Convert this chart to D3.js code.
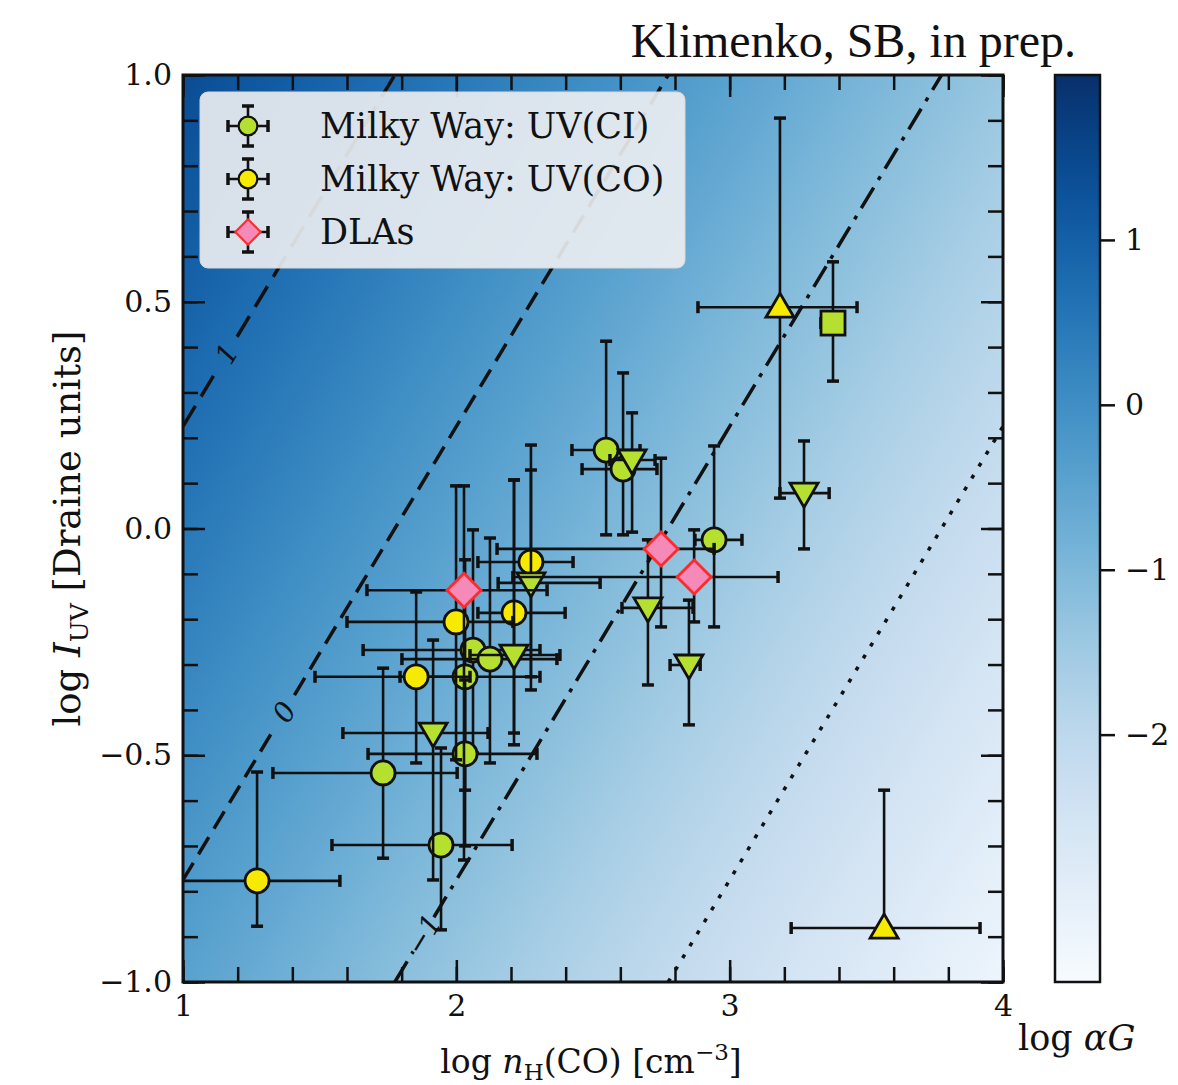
<!DOCTYPE html>
<html>
<head>
<meta charset="utf-8">
<title>log alpha G</title>
<script src="https://d3js.org/d3.v7.min.js"></script>
<style>
body { margin: 0; background: #fff; }
text { font-family: "DejaVu Serif", serif; fill: #111; }
</style>
</head>
<body>
<script>

// ---- data (log n_H, log I_UV, with error bounds) ----
var xTicks = [1, 2, 3, 4];
var yTicks = [-1, -0.5, 0, 0.5, 1];
var cbTicks = [1, 0, -1, -2];
var contourLevels = [1, 0, -1, -2];
var contourLabelX = [1.16, 1.37, 1.88, null];
var contourDash = ["24,11", "20,10", "24,9,4,9", "4,10"];
var alphaGOffset = 1.775;          // log aG = log I - log n + offset
var cbDomain = [-3.5, 2.0];
var fieldDomain = [-3.5, 2.4];

var legendLabels = ["Milky Way: UV(CI)", "Milky Way: UV(CO)", "DLAs"];

var ciCircles = [
	{x: 2.548, y: 0.173, xl: 2.423, xh: 2.672, yl: -0.014, yh: 0.413},
	{x: 2.610, y: 0.131, xl: 2.460, xh: 2.734, yl: -0.014, yh: 0.343},
	{x: 2.943, y: -0.025, xl: 2.873, xh: 3.045, yl: -0.217, yh: 0.182},
	{x: 2.061, y: -0.268, xl: 1.659, xh: 2.306, yl: -0.495, yh: -0.003},
	{x: 2.123, y: -0.288, xl: 1.801, xh: 2.368, yl: -0.517, yh: -0.021},
	{x: 2.032, y: -0.327, xl: 1.794, xh: 2.306, yl: -0.577, yh: -0.069},
	{x: 2.032, y: -0.497, xl: 1.677, xh: 2.295, yl: -0.700, yh: -0.334},
	{x: 1.732, y: -0.539, xl: 1.329, xh: 2.003, yl: -0.727, yh: -0.308},
	{x: 1.944, y: -0.698, xl: 1.545, xh: 2.204, yl: -0.885, yh: -0.484}
];
var ciUpper = [
	{x: 2.643, y: 0.151, xl: 2.562, xh: 2.727, yl: -0.008, yh: 0.255},
	{x: 2.273, y: -0.120, xl: 2.153, xh: 2.526, yl: -0.356, yh: 0.129},
	{x: 2.211, y: -0.279, xl: 2.050, xh: 2.379, yl: -0.451, yh: 0.107},
	{x: 1.915, y: -0.451, xl: 1.585, xh: 2.116, yl: -0.775, yh: -0.246},
	{x: 2.701, y: -0.175, xl: 2.606, xh: 2.866, yl: -0.345, yh: -0.025},
	{x: 2.851, y: -0.301, xl: 2.782, xh: 2.892, yl: -0.433, yh: -0.158},
	{x: 3.272, y: 0.078, xl: 3.184, xh: 3.364, yl: -0.045, yh: 0.193}
];
var ciSquare = [
	{x: 3.378, y: 0.453, xl: 3.334, xh: 3.400, yl: 0.325, yh: 0.588}
];
var coCircles = [
	{x: 2.273, y: -0.074, xl: 2.079, xh: 2.427, yl: -0.327, yh: 0.184},
	{x: 2.211, y: -0.186, xl: 2.079, xh: 2.398, yl: -0.477, yh: 0.107},
	{x: 1.999, y: -0.206, xl: 1.600, xh: 2.207, yl: -0.510, yh: 0.094},
	{x: 1.853, y: -0.327, xl: 1.483, xh: 2.050, yl: -0.517, yh: -0.140},
	{x: 1.271, y: -0.777, xl: 0.980, xh: 1.574, yl: -0.877, yh: -0.537}
];
var coLower = [
	{x: 3.184, y: 0.488, xl: 2.884, xh: 3.466, yl: 0.067, yh: 0.905},
	{x: 3.565, y: -0.881, xl: 3.225, xh: 3.916, yl: -0.881, yh: -0.577}
];
var dlas = [
	{x: 2.028, y: -0.136, xl: 1.673, xh: 2.332, yl: -0.731, yh: 0.094},
	{x: 2.749, y: -0.045, xl: 2.149, xh: 2.943, yl: -0.217, yh: 0.155},
	{x: 2.870, y: -0.107, xl: 2.207, xh: 3.177, yl: -0.206, yh: -0.003}
];

var green = "#b6e02f", yellow = "#f6ea00", pink = "#f58ab8", red = "#ff2a2a", ink = "#111";

// ---- layout ----
var W = 1178, H = 1085;
var pL = 183, pR = 1003, pT = 75, pB = 982;

var svg = d3.select("body").append("svg")
	.attr("width", W)
	.attr("height", H);

var x = d3.scaleLinear().domain([1, 4]).range([pL, pR]);
var y = d3.scaleLinear().domain([-1, 1]).range([pB, pT]);
var color = d3.scaleSequential(d3.interpolateBlues).domain(cbDomain);
var fieldColor = d3.scaleSequential(d3.interpolateBlues).domain(fieldDomain);

var defs = svg.append("defs");
defs.append("clipPath").attr("id", "plotclip")
	.append("rect")
	.attr("x", pL).attr("y", pT)
	.attr("width", pR - pL).attr("height", pB - pT);

// background field: log aG = y - x + offset, linear -> linear gradient
function field(px, py) { return y.invert(py) - x.invert(px) + alphaGOffset; }
var kx = (pR - pL) / 3, ky = (pB - pT) / 2;
var gx = -1 / kx, gy = -1 / ky, g2 = gx * gx + gy * gy;
var v0 = field(pR, pB), v1 = field(pL, pT);
var bg = defs.append("linearGradient").attr("id", "bggrad")
	.attr("gradientUnits", "userSpaceOnUse")
	.attr("x1", pR).attr("y1", pB)
	.attr("x2", pR + (v1 - v0) * gx / g2)
	.attr("y2", pB + (v1 - v0) * gy / g2);
d3.range(0, 41).forEach(function(i){
	var v = v0 + (v1 - v0) * i / 40;
	bg.append("stop").attr("offset", (i / 40)).attr("stop-color", fieldColor(v));
});

svg.append("rect")
	.attr("x", pL).attr("y", pT)
	.attr("width", pR - pL).attr("height", pB - pT)
	.attr("fill", "url(#bggrad)");

var plot = svg.append("g").attr("clip-path", "url(#plotclip)");

// ---- contour lines ----
var lineAngle = Math.atan2(y(1) - y(0), x(2) - x(1)) * 180 / Math.PI;
contourLevels.forEach(function(L, i){
	var k = L - alphaGOffset;
	var xa = Math.max(1, -1 - k), xb = Math.min(4, 1 - k);
	var p0 = [x(xa), y(xa + k)], p1 = [x(xb), y(xb + k)];
	var segs = [[p0, p1]];
	if (contourLabelX[i] !== null) {
		var lx = contourLabelX[i];
		var pl = [x(lx), y(lx + k)];
		var len = Math.hypot(p1[0] - p0[0], p1[1] - p0[1]);
		var u = [(p1[0] - p0[0]) / len, (p1[1] - p0[1]) / len];
		var gap = 20;
		segs = [[p0, [pl[0] - u[0] * gap, pl[1] - u[1] * gap]],
				[[pl[0] + u[0] * gap, pl[1] + u[1] * gap], p1]];
		plot.append("text")
			.attr("transform", "translate(" + pl[0] + "," + pl[1] + ") rotate(" + lineAngle + ")")
			.attr("text-anchor", "middle")
			.attr("dy", "0.35em")
			.style("font-size", "28px")
			.style("font-style", "italic")
			.text(d3.format("d")(L));
	}
	segs.forEach(function(s){
		plot.append("line")
			.attr("x1", s[0][0]).attr("y1", s[0][1])
			.attr("x2", s[1][0]).attr("y2", s[1][1])
			.attr("stroke", ink)
			.attr("stroke-width", 3.5)
			.attr("stroke-dasharray", contourDash[i]);
	});
});

// ---- error bars + markers ----
function marker(g, shape, fill, stroke) {
	if (shape === "circle") {
		g.append("circle").attr("r", 12);
	} else if (shape === "down") {
		g.append("path").attr("d", "M-14,-10L14,-10L0,14Z");
	} else if (shape === "up") {
		g.append("path").attr("d", "M-14,10L14,10L0,-14Z");
	} else if (shape === "square") {
		g.append("rect").attr("x", -12).attr("y", -12).attr("width", 24).attr("height", 24);
	} else if (shape === "diamond") {
		g.append("path").attr("d", "M0,-17L17,0L0,17L-17,0Z");
	}
	g.selectAll("*").attr("fill", fill).attr("stroke", stroke).attr("stroke-width", 2.8);
}

function errBar(g, x1, y1, x2, y2, vertical) {
	g.append("line").attr("x1", x1).attr("y1", y1).attr("x2", x2).attr("y2", y2)
		.attr("stroke", ink).attr("stroke-width", 2.6);
	[[x1, y1], [x2, y2]].forEach(function(p){
		g.append("line")
			.attr("x1", vertical ? p[0] - 6 : p[0]).attr("x2", vertical ? p[0] + 6 : p[0])
			.attr("y1", vertical ? p[1] : p[1] - 6).attr("y2", vertical ? p[1] : p[1] + 6)
			.attr("stroke", ink).attr("stroke-width", 3.5);
	});
}

function drawSeries(data, shape, fill, stroke) {
	var grp = plot.append("g");
	data.forEach(function(d){
		var px = x(d.x), py = y(d.y);
		if (d.xh > d.xl) errBar(grp, x(d.xl), py, x(d.xh), py, false);
		if (d.yh > d.yl) {
			if (d.yl < d.y) errBar(grp, px, y(d.yl), px, y(d.yh), true);
			else {
				grp.append("line").attr("x1", px).attr("x2", px).attr("y1", py).attr("y2", y(d.yh))
					.attr("stroke", ink).attr("stroke-width", 2.6);
				grp.append("line").attr("x1", px - 6).attr("x2", px + 6).attr("y1", y(d.yh)).attr("y2", y(d.yh))
					.attr("stroke", ink).attr("stroke-width", 3.5);
			}
		}
		marker(grp.append("g").attr("transform", "translate(" + px + "," + py + ")"), shape, fill, stroke);
	});
}

drawSeries(ciCircles, "circle", green, ink);
drawSeries(coCircles, "circle", yellow, ink);
drawSeries(ciUpper, "down", green, ink);
drawSeries(ciSquare, "square", green, ink);
drawSeries(coLower, "up", yellow, ink);
drawSeries(dlas, "diamond", pink, red);

// ---- axes, ticks inside on all sides ----
var xMinor = d3.range(1, 4.001, 0.2), yMinor = d3.range(-1, 1.001, 0.1);

function tickStyle(g) {
	g.select(".domain").remove();
	g.selectAll(".tick line").attr("stroke", ink).attr("stroke-width", 2.5);
	g.selectAll(".tick text").style("font-size", "30px").attr("fill", ink);
}

svg.append("g").attr("transform", "translate(0," + pB + ")")
	.call(d3.axisBottom(x).tickValues(xMinor).tickSize(-15).tickFormat(""))
	.call(tickStyle);
svg.append("g").attr("transform", "translate(0," + pB + ")")
	.call(d3.axisBottom(x).tickValues(xTicks).tickSize(-22).tickPadding(13).tickFormat(d3.format("d")))
	.call(tickStyle);
svg.append("g").attr("transform", "translate(0," + pT + ")")
	.call(d3.axisTop(x).tickValues(xMinor).tickSize(-15).tickFormat(""))
	.call(tickStyle);
svg.append("g").attr("transform", "translate(0," + pT + ")")
	.call(d3.axisTop(x).tickValues(xTicks).tickSize(-22).tickFormat(""))
	.call(tickStyle);

svg.append("g").attr("transform", "translate(" + pL + ",0)")
	.call(d3.axisLeft(y).tickValues(yMinor).tickSize(-15).tickFormat(""))
	.call(tickStyle);
svg.append("g").attr("transform", "translate(" + pL + ",0)")
	.call(d3.axisLeft(y).tickValues(yTicks).tickSize(-22).tickPadding(11).tickFormat(d3.format(".1f")))
	.call(tickStyle);
svg.append("g").attr("transform", "translate(" + pR + ",0)")
	.call(d3.axisRight(y).tickValues(yMinor).tickSize(-15).tickFormat(""))
	.call(tickStyle);
svg.append("g").attr("transform", "translate(" + pR + ",0)")
	.call(d3.axisRight(y).tickValues(yTicks).tickSize(-22).tickFormat(""))
	.call(tickStyle);

svg.append("rect")
	.attr("x", pL).attr("y", pT)
	.attr("width", pR - pL).attr("height", pB - pT)
	.attr("fill", "none").attr("stroke", ink).attr("stroke-width", 3);

// ---- legend ----
var leg = svg.append("g");
leg.append("rect")
	.attr("x", 200).attr("y", 92).attr("width", 485).attr("height", 176).attr("rx", 8)
	.attr("fill", "#eef0f2").attr("fill-opacity", 0.9)
	.attr("stroke", "#d8d8d8").attr("stroke-width", 1);
var legStyles = [["circle", green, ink], ["circle", yellow, ink], ["diamond", pink, red]];
legendLabels.forEach(function(lbl, i){
	var ly = 126 + i * 53, lx = 248;
	errBar(leg, lx - 20, ly, lx + 20, ly, false);
	errBar(leg, lx, ly - 20, lx, ly + 20, true);
	var m = leg.append("g").attr("transform", "translate(" + lx + "," + ly + ")" + (i === 2 ? " scale(0.75)" : " scale(0.78)"));
	marker(m, legStyles[i][0], legStyles[i][1], legStyles[i][2]);
	leg.append("text").attr("x", 320).attr("y", ly + 12)
		.style("font-size", "35px").text(lbl);
});

// ---- axis labels ----
var xLab = svg.append("text").attr("x", (pL + pR) / 2 - 2).attr("y", 1073)
	.attr("text-anchor", "middle").style("font-size", "33px");
xLab.append("tspan").text("log ");
xLab.append("tspan").style("font-style", "italic").text("n");
xLab.append("tspan").attr("dy", 7).style("font-size", "23px").text("H");
xLab.append("tspan").attr("dy", -7).text("(CO) [cm");
xLab.append("tspan").attr("dy", -13).style("font-size", "23px").text("−3");
xLab.append("tspan").attr("dy", 13).text("]");

var yLab = svg.append("text").attr("transform", "translate(80," + ((pT + pB) / 2) + ") rotate(-90)")
	.attr("text-anchor", "middle").style("font-size", "37px");
yLab.append("tspan").text("log ");
yLab.append("tspan").style("font-style", "italic").text("I");
yLab.append("tspan").attr("dy", 8).style("font-size", "25px").text("UV");
yLab.append("tspan").attr("dy", -8).text(" [Draine units]");

svg.append("text").attr("x", 1076).attr("y", 57).attr("text-anchor", "end")
	.style("font-family", "'Liberation Serif', serif")
	.style("font-size", "48px").text("Klimenko, SB, in prep.");

// ---- colour bar ----
var cbx = 1055, cbw = 45;
var cbScale = d3.scaleLinear().domain(cbDomain).range([pB, pT]);
var cbg = defs.append("linearGradient").attr("id", "cbgrad")
	.attr("x1", 0).attr("y1", 1).attr("x2", 0).attr("y2", 0);
d3.range(0, 41).forEach(function(i){
	var v = cbDomain[0] + (cbDomain[1] - cbDomain[0]) * i / 40;
	cbg.append("stop").attr("offset", i / 40).attr("stop-color", color(v));
});
svg.append("rect").attr("x", cbx).attr("y", pT).attr("width", cbw).attr("height", pB - pT)
	.attr("fill", "url(#cbgrad)").attr("stroke", ink).attr("stroke-width", 2.5);
svg.append("g").attr("transform", "translate(" + (cbx + cbw) + ",0)")
	.call(d3.axisRight(cbScale).tickValues(cbTicks).tickSize(15).tickPadding(10).tickFormat(d3.format("d")))
	.call(tickStyle);

var cbl = svg.append("text").attr("x", 1018).attr("y", 1050).style("font-size", "35px");
cbl.append("tspan").text("log ");
cbl.append("tspan").style("font-style", "italic").text("αG");

</script>
</body>
</html>
